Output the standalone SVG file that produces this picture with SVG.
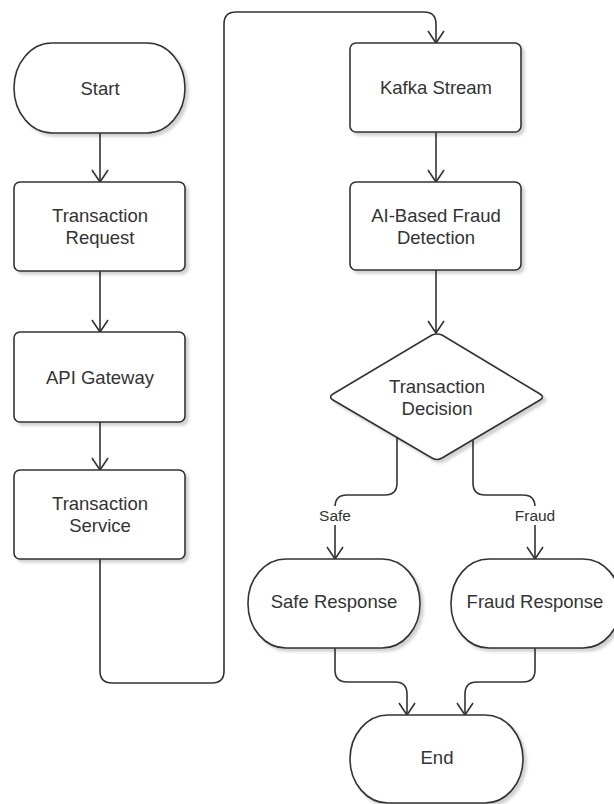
<svg xmlns="http://www.w3.org/2000/svg" width="614" height="804" viewBox="0 0 614 804">
<defs>
<filter id="sh" x="-10%" y="-10%" width="130%" height="130%">
<feDropShadow dx="3" dy="3" stdDeviation="1.5" flood-color="#000" flood-opacity="0.18"/>
</filter>
<marker id="arr" markerUnits="userSpaceOnUse" markerWidth="20" markerHeight="20" refX="0" refY="0" orient="auto" viewBox="-14 -10 16 20" overflow="visible">
<path d="M-12,-8 L0,0 L-12,8" fill="none" stroke="#333" stroke-width="1.6"/>
</marker>
</defs>
<style>
.n{fill:#fff;stroke:#333;stroke-width:1.6;filter:url(#sh)}
.c{fill:none;stroke:#333;stroke-width:1.6;marker-end:url(#arr)}
.t{font-family:"Liberation Sans",Arial,Helvetica,sans-serif;font-size:18.5px;fill:#333;text-anchor:middle;dominant-baseline:central}
.l{font-family:"Liberation Sans",Arial,Helvetica,sans-serif;font-size:15.5px;fill:#333;text-anchor:middle;dominant-baseline:central}
</style>
<rect width="614" height="804" fill="#fff"/>
<g id="connectors">
<path class="c" d="M100,133 V182"/>
<path class="c" d="M100,271 V332"/>
<path class="c" d="M100,422 V470"/>
<path class="c" d="M100,559 V671 Q100,683 112,683 H212 Q224,683 224,671 V24 Q224,12 236,12 H424 Q436,12 436,24 V43"/>
<path class="c" d="M436,132 V182"/>
<path class="c" d="M436,270 V333"/>
<path class="c" d="M397,437 V483 Q397,495 385,495 H347 Q335,495 335,507 V559"/>
<path class="c" d="M473,437 V483 Q473,495 485,495 H523 Q535,495 535,507 V559"/>
<path class="c" d="M335,648 V670 Q335,682 347,682 H395 Q407,682 407,694 V715"/>
<path class="c" d="M535,648 V670 Q535,682 523,682 H477 Q465,682 465,694 V715"/>
<rect x="317" y="506" width="36" height="19" fill="#fff"/>
<text class="l" x="335" y="515">Safe</text>
<rect x="514" y="506" width="42" height="19" fill="#fff"/>
<text class="l" x="535" y="515">Fraud</text>
</g>
<g id="start">
<rect class="n" x="14" y="43" width="171" height="90" rx="38" ry="45"/>
<text class="t" x="100" y="88">Start</text>
</g>
<g id="transaction-request">
<rect class="n" x="14" y="182" width="171" height="89" rx="6"/>
<text class="t" x="100" y="215">Transaction</text>
<text class="t" x="100" y="237">Request</text>
</g>
<g id="api-gateway">
<rect class="n" x="14" y="332" width="171" height="90" rx="6"/>
<text class="t" x="100" y="377">API Gateway</text>
</g>
<g id="transaction-service">
<rect class="n" x="14" y="470" width="171" height="89" rx="6"/>
<text class="t" x="100" y="503">Transaction</text>
<text class="t" x="100" y="525">Service</text>
</g>
<g id="kafka-stream">
<rect class="n" x="350" y="43" width="171" height="89" rx="6"/>
<text class="t" x="436" y="87">Kafka Stream</text>
</g>
<g id="ai-fraud-detection">
<rect class="n" x="350" y="182" width="171" height="88" rx="6"/>
<text class="t" x="436" y="215">AI-Based Fraud</text>
<text class="t" x="436" y="237">Detection</text>
</g>
<g id="transaction-decision">
<path class="n" d="M432,335 Q437,333 442,335 L540,394 Q545,397 540,400 L442,458 Q437,461 432,458 L333,400 Q328,397 333,394 Z"/>
<text class="t" x="437" y="386">Transaction</text>
<text class="t" x="437" y="408">Decision</text>
</g>
<g id="safe-response">
<rect class="n" x="248" y="559" width="172" height="89" rx="38" ry="44"/>
<text class="t" x="334" y="601">Safe Response</text>
</g>
<g id="fraud-response">
<rect class="n" x="451" y="559" width="170" height="89" rx="38" ry="44"/>
<text class="t" x="535" y="601">Fraud Response</text>
</g>
<g id="end">
<rect class="n" x="350" y="715" width="173" height="88" rx="38" ry="44"/>
<text class="t" x="437" y="757">End</text>
</g>
</svg>
